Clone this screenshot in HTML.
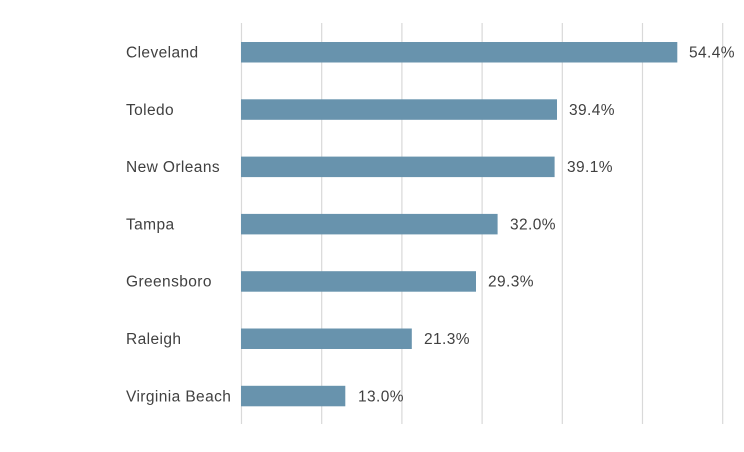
<!DOCTYPE html>
<html><head><style>
body{margin:0;background:#fff;}
svg text{font-family:"Liberation Sans",sans-serif;font-size:15.5px;letter-spacing:0.4px;fill:#404040;}
</style></head><body>
<svg width="744" height="447" xmlns="http://www.w3.org/2000/svg">
<g stroke="#d9d9d9" stroke-width="1.2">
<line x1="241.5" y1="23" x2="241.5" y2="424"/>
<line x1="321.7" y1="23" x2="321.7" y2="424"/>
<line x1="401.9" y1="23" x2="401.9" y2="424"/>
<line x1="482.1" y1="23" x2="482.1" y2="424"/>
<line x1="562.3" y1="23" x2="562.3" y2="424"/>
<line x1="642.5" y1="23" x2="642.5" y2="424"/>
<line x1="722.7" y1="23" x2="722.7" y2="424"/>
</g>
<g fill="#6893ad">
<rect x="241" y="42" width="436.3" height="20.5"/>
<rect x="241" y="99.3" width="316" height="20.5"/>
<rect x="241" y="156.6" width="313.6" height="20.5"/>
<rect x="241" y="213.9" width="256.6" height="20.5"/>
<rect x="241" y="271.2" width="235" height="20.5"/>
<rect x="241" y="328.5" width="170.8" height="20.5"/>
<rect x="241" y="385.8" width="104.3" height="20.5"/>
</g>
<g>
<text x="126" y="57.5">Cleveland</text>
<text x="126" y="114.8">Toledo</text>
<text x="126" y="172.1">New Orleans</text>
<text x="126" y="229.4">Tampa</text>
<text x="126" y="286.7">Greensboro</text>
<text x="126" y="344">Raleigh</text>
<text x="126" y="401.3">Virginia Beach</text>
<text x="689" y="57.5">54.4%</text>
<text x="569" y="114.8">39.4%</text>
<text x="567" y="172.1">39.1%</text>
<text x="510" y="229.4">32.0%</text>
<text x="488" y="286.7">29.3%</text>
<text x="424" y="344">21.3%</text>
<text x="358" y="401.3">13.0%</text>
</g>
</svg>
</body></html>
